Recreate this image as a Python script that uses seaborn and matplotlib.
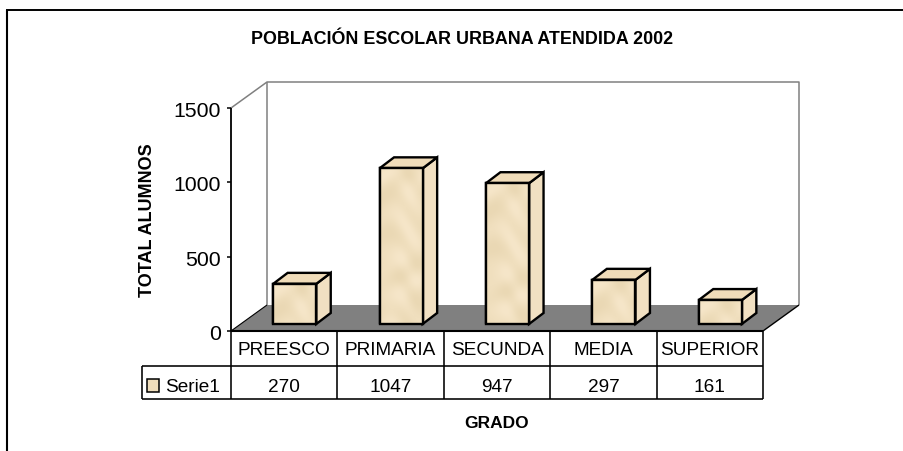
import numpy as np
import pandas as pd
import matplotlib
matplotlib.use('Agg')
import matplotlib.pyplot as plt
from matplotlib.colors import LinearSegmentedColormap
from matplotlib.patches import Polygon, Rectangle
from matplotlib.lines import Line2D
import seaborn as sns

grados = ['PREESCO', 'PRIMARIA', 'SECUNDA', 'MEDIA', 'SUPERIOR']
alumnos = [270, 1047, 947, 297, 161]
serie = 'Serie1'
y_ticks = [0, 500, 1000, 1500]

W, H = 904, 452
sns.set_theme(style='white')
plt.rcParams['font.family'] = ['Liberation Sans', 'DejaVu Sans']

CREAM = '#EFDDBB'
GRAY = '#808080'
marble = LinearSegmentedColormap.from_list('marble', ['#EAD8B4', '#F0DFBE', '#F6E6C9'])

fig = plt.figure(figsize=(W / 100, H / 100), dpi=100)

# everything decorative is drawn in pixel coords on a full overlay
bg = fig.add_axes([0, 0, 1, 1], zorder=0)
bg.set_xlim(0, W)
bg.set_ylim(H, 0)
bg.axis('off')


def line(xs, ys, color='black', lw=1.1, zorder=2):
    bg.add_line(Line2D(xs, ys, color=color, lw=lw, zorder=zorder, solid_capstyle='butt'))


def mottled(width, height):
    # soft stone look for the bar faces, just a texture
    yy, xx = np.mgrid[0:height + 1, 0:width + 1]
    return (np.sin(xx / 7.3 + yy / 13.1 + np.sin(yy / 17.0) * 2.0)
            + np.sin(yy / 6.1 - xx / 11.7 + np.sin(xx / 9.0) * 1.5))


# outer frame: only top and left reach the picture
line([7, 7], [10.5, 452], lw=1.5)
line([6, 904], [11, 11], lw=1.4)

# walls and floor
x0, x1, y0, y1 = 231, 763, 332, 109
ddx, ddy = 36, 26
bg.add_patch(Polygon([(x0, y0), (x1, y0), (x1 + ddx, y0 - ddy), (x0 + ddx, y0 - ddy)],
                     fc=GRAY, ec='none', zorder=1))
line([x0, x0 + ddx, x1 + ddx, x1 + ddx], [y1, y1 - ddy, y1 - ddy, y0 - ddy], color=GRAY, lw=1.1)
line([x0 + ddx, x0 + ddx], [y1 - ddy, y0 - ddy], color=GRAY, lw=1.1)
line([x0, x0 + ddx], [y0, y0 - ddy], color='black', lw=0.8)
line([x1, x1 + ddx], [y0, y0 - ddy], color='black', lw=1.0)

# bars: front faces sit on a plane slightly behind the axis
shift_x, shift_y = 10.5, 7
ax = fig.add_axes([(x0 + shift_x) / W, 1 - (y0 - shift_y) / H, (x1 - x0) / W, (y0 - y1) / H], zorder=2)
ax.patch.set_alpha(0)
df = pd.DataFrame({'grado': grados, 'alumnos': alumnos})
sns.barplot(data=df, x='grado', y='alumnos', ax=ax, color=CREAM, saturation=1, width=0.405,
            edgecolor='black', linewidth=1.7, zorder=3)

# side and top faces from the bar geometry, in pixels
ax.set_xlim(-0.5, 4.5)
ax.set_ylim(0, 1500)
px_trans = ax.transData + bg.transData.inverted()
bar_dx, bar_dy = 14.5, 11
for bar in list(ax.patches):
    (l, b) = px_trans.transform((bar.get_x(), 0))
    (r, t) = px_trans.transform((bar.get_x() + bar.get_width(), bar.get_height()))
    bg.add_patch(Polygon([(r, b), (r + bar_dx, b - bar_dy), (r + bar_dx, t - bar_dy), (r, t)],
                         fc='#F1E0C2', ec='black', lw=1.7, joinstyle='miter', zorder=1.5))
    bg.add_patch(Polygon([(l, t), (l + bar_dx, t - bar_dy), (r + bar_dx, t - bar_dy), (r, t)],
                         fc='#F0DCB9', ec='black', lw=1.7, joinstyle='miter', zorder=1.5))
    tex = mottled(int(r - l), int(b - t))
    ax.imshow(tex, extent=(bar.get_x(), bar.get_x() + bar.get_width(), 0, bar.get_height()), aspect='auto',
              cmap=marble, interpolation='bilinear', clip_path=bar, zorder=4)
    ax.add_patch(Rectangle((bar.get_x(), 0), bar.get_width(), bar.get_height(),
                           fc='none', ec='black', lw=1.7, zorder=5, clip_on=False))
ax.set_xlim(-0.5, 4.5)
ax.set_ylim(0, 1500)
ax.axis('off')

# value axis
line([x0, x0], [y1, y0], lw=1.3, zorder=3)
for v in y_ticks:
    y = y0 + (y1 - y0) * v / y_ticks[-1]
    line([x0 - 4, x0], [y, y], lw=1.1, zorder=3)
    bg.text(x0 - 10, y + 0.5, str(v), ha='right', va='center_baseline', fontsize=15.3, color='black')

# data table
col_w = (x1 - x0) / len(grados)
row_a, row_b = 367, 400
leg_x = 142
line([x0, x1], [y0, y0], lw=1.5, zorder=3)
line([leg_x, x1], [row_a, row_a], lw=1.15)
line([leg_x, x1], [row_b, row_b], lw=1.15)
line([leg_x, leg_x], [row_a, row_b], lw=1.15)
for i in range(len(grados) + 1):
    line([x0 + i * col_w] * 2, [y0, row_b], lw=1.15)
for i, (g, n) in enumerate(zip(grados, alumnos)):
    cx = x0 + (i + 0.5) * col_w
    bg.text(cx, 348.5, g, ha='center', va='center_baseline', fontsize=13.7, color='black')
    bg.text(cx, 386, str(n), ha='center', va='center_baseline', fontsize=13.7, color='black')
bg.add_patch(Rectangle((147.5, 380), 11.5, 12.5, fc=CREAM, ec='black', lw=1.1, zorder=3))
bg.text(165, 386, serie, ha='left', va='center_baseline', fontsize=13.7, color='black')

# titles
bg.text(462, 37.5, 'POBLACIÓN ESCOLAR URBANA ATENDIDA 2002', ha='center', va='center_baseline',
        fontsize=12.9, fontweight='bold', color='black')
bg.text(148, 220.5, 'TOTAL ALUMNOS', rotation=90, ha='center', va='center',
        fontsize=13, fontweight='bold', color='black')
bg.text(497, 422, 'GRADO', ha='center', va='center_baseline', fontsize=12.5, fontweight='bold', color='black')

fig.savefig('out.png', dpi=100)
